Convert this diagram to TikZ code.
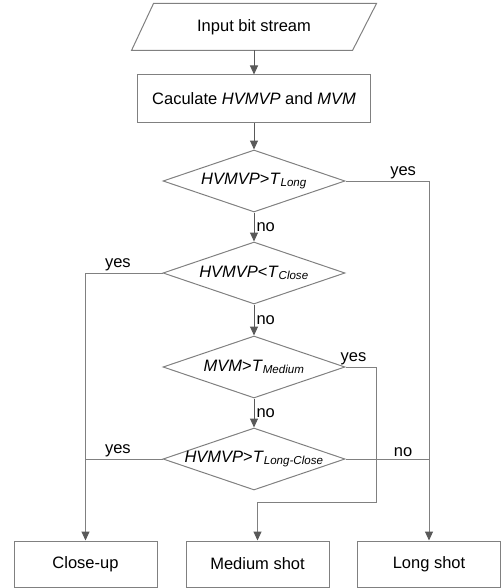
\documentclass[tikz,border=0pt]{standalone}
\usepackage{fontspec}
\setmainfont{Liberation Sans}
\usetikzlibrary{shapes.geometric,arrows.meta}
\definecolor{linegray}{HTML}{808080}
\definecolor{tipgray}{HTML}{595959}
\newcommand\hvm{\textit{HVMVP}}
\newcommand\Tsub[1]{\textit{T}\textsubscript{\textit{#1}}}
\begin{document}
\begin{tikzpicture}[x=1pt, y=-1pt, line width=1pt,
  font=\fontsize{16.5}{19}\selectfont,
  >={Triangle[width=8pt,length=9pt,color=tipgray]},
  box/.style={draw=linegray, minimum width=143pt, minimum height=46pt, inner sep=0pt},
  test/.style={draw=linegray, diamond, aspect=2.9, minimum width=182pt, minimum height=62pt, inner sep=0pt},
  link/.style={draw=linegray},
  arr/.style={->, draw=tipgray},
  lbl/.style={inner sep=2pt}]
\useasboundingbox (0,0) rectangle (501,588);
% input and first step
\node[minimum width=220pt, minimum height=46pt, inner sep=0pt] (in) at (254,27) {Input bit stream};
\draw[linegray] ([xshift=-12pt]in.south west) -- ([xshift=10pt]in.north west)
  -- ([xshift=12pt]in.north east) -- ([xshift=-12pt]in.south east) -- cycle;
\node[box, minimum width=233pt, minimum height=48pt] (calc) at (254,99) {Caculate \hvm{} and \textit{MVM}};
% decisions
\node[test] (d1) at (254,181) {\makebox[0pt]{\hvm>\Tsub{Long}}};
\node[test] (d2) at (254,273) {\makebox[0pt]{\hvm<\Tsub{Close}}};
\node[test] (d3) at (254,367) {\makebox[0pt]{\textit{MVM}>\Tsub{Medium}}};
\node[test] (d4) at (254,459) {\makebox[0pt]{\hvm>\Tsub{Long-Close}}};
% results
\foreach \n/\x/\t in {close/85.5/Close-up, medium/257.5/Medium shot, long/429/Long shot}
  \node[box] (\n) at (\x,564) {\t};
\coordinate (m) at (376,502);
% connectors
\draw[arr] (in) -- (calc);
\draw[arr] (calc) -- (d1);
\draw[arr] (d1) -- node[lbl,right]{no} (d2);
\draw[arr] (d2) -- node[lbl,right]{no} (d3);
\draw[arr] (d3) -- node[lbl,right]{no} (d4);
\draw[link,->] (d1.east) -- node[lbl,above,pos=.69]{yes} (d1.east -| long.north) -- (long.north);
\draw[link,->] (d2.west) -- node[lbl,above,pos=.58]{yes} (d2.west -| close.north) -- (close.north);
\draw[link,->] (d3.east) -- node[lbl,above,pos=.26]{yes} (d3.east -| m) -- (m) -- (m -| medium.north) -- (medium.north);
\draw[link] (d4.west) -- node[lbl,above,pos=.58]{yes} (d4.west -| close.north);
\draw[link] (d4.east) -- node[lbl,above,pos=.69]{no} (d4.east -| long.north);
\end{tikzpicture}
\end{document}
